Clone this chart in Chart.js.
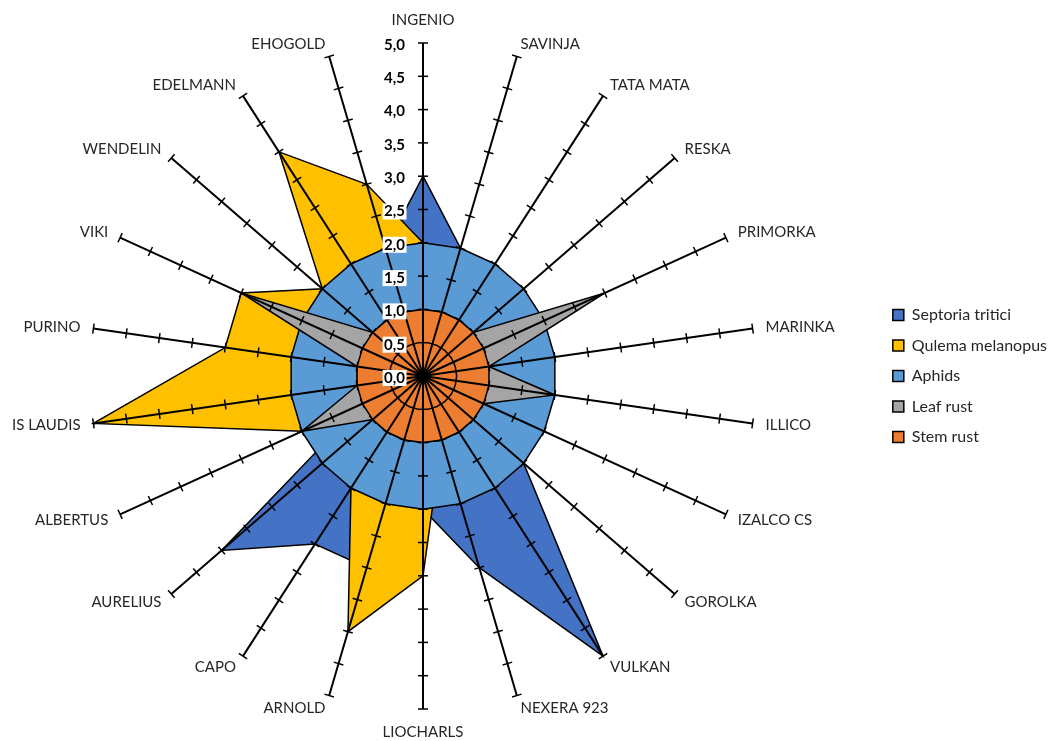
<!DOCTYPE html>
<html>
<head>
<meta charset="utf-8">
<script src="https://cdn.jsdelivr.net/npm/chart.js@4/dist/chart.umd.min.js"></script>
<style>
  body { margin:0; background:#fff; overflow:hidden; }
  #wrap { width:1089px; height:741px; position:relative; margin-left:-32px; }
</style>
</head>
<body>
<div id="wrap"><canvas id="chart"></canvas></div>
<script>
// Varieties (axes)
const varieties = ['INGENIO','SAVINJA','TATA MATA','RESKA','PRIMORKA','MARINKA','ILLICO','IZALCO CS',
  'GOROLKA','VULKAN','NEXERA 923','LIOCHARLS','ARNOLD','CAPO','AURELIUS','ALBERTUS','IS LAUDIS',
  'PURINO','VIKI','WENDELIN','EDELMANN','EHOGOLD'];

// Series values
const septoria = [3,2,1.5,1.5,1.5,1.5,1.5,1.5,2,5,3,2,3,3,4,1,1.5,1.5,1.5,1.5,2,2];
const qulema   = [2,1.5,1.5,1.5,1.5,1.5,1.5,1.5,1.5,1.5,1,3,4,2,1.5,2,5,3,3,2,4,3];
const aphids   = [2,2,2,2,2,2,2,2,2,2,2,2,2,2,2,2,2,2,2,2,2,2];
const leafRust = [1,1,1,1,3,1,2,1,1,1,1,1,1,1,1,2,1,1,3,1,1,1];
const stemRust = [1,1,1,1,1,1,1,1,1,1,1,1,1,1,1,1,1,1,1,1,1,1];

// Value axis
const tickValues = [0,0.5,1,1.5,2,2.5,3,3.5,4,4.5,5];
const tickLabels = ['0,0','0,5','1,0','1,5','2,0','2,5','3,0','3,5','4,0','4,5','5,0'];

const FONT = 'Lato';
const TEXT = '#262626';

// tick marks, value labels and category labels drawn on top
const radarDecor = {
  id:'radarDecor',
  afterDraw(chart){
    const sc = chart.scales.r;
    const ctx = chart.ctx;
    const n = varieties.length;
    ctx.save();
    // small cross ticks on every axis
    ctx.strokeStyle = '#000';
    ctx.lineWidth = 1.5;
    for(let i=0;i<n;i++){
      const a = sc.getIndexAngle(i) - Math.PI/2;
      const px = -Math.sin(a), py = Math.cos(a);
      tickValues.forEach(v=>{
        if(v===0) return;
        const p = sc.getPointPositionForValue(i, v);
        ctx.beginPath();
        ctx.moveTo(p.x - px*5, p.y - py*5);
        ctx.lineTo(p.x + px*5, p.y + py*5);
        ctx.stroke();
      });
    }
    // value labels left of the first axis
    ctx.font = `bold 15px ${FONT}`;
    ctx.textAlign = 'right';
    ctx.textBaseline = 'middle';
    tickValues.forEach((v,k)=>{
      const p = sc.getPointPositionForValue(0, v);
      const x = sc.xCenter - 18, y = p.y + 2;
      const w = ctx.measureText(tickLabels[k]).width;
      ctx.fillStyle = '#fff';
      ctx.fillRect(x - w - 1.5, y - 8, w + 3, 16);
      ctx.fillStyle = '#000';
      ctx.fillText(tickLabels[k], x, y);
    });
    // category labels
    ctx.font = `15px ${FONT}`;
    ctx.fillStyle = TEXT;
    for(let i=0;i<n;i++){
      const deg = Math.round(i*360/n);
      const p = sc.getPointPosition(i, sc.drawingArea + 13);
      let y = p.y;
      if(deg===0){ ctx.textAlign='center'; y -= 10; }
      else if(deg===180){ ctx.textAlign='center'; y += 10; }
      else ctx.textAlign = deg < 180 ? 'left' : 'right';
      ctx.fillText(varieties[i], p.x, y);
    }
    ctx.restore();
  }
};

const series = [
  { label:'Septoria tritici',  data:septoria, color:'#4472C4' },
  { label:'Qulema melanopus',  data:qulema,   color:'#FFC000' },
  { label:'Aphids',            data:aphids,   color:'#5B9BD5' },
  { label:'Leaf rust',         data:leafRust, color:'#A5A5A5' },
  { label:'Stem rust',         data:stemRust, color:'#ED7D31' }
];

new Chart(document.getElementById('chart'), {
  type:'radar',
  data:{
    labels:varieties,
    datasets:series.map((s,i)=>({
      label:s.label,
      data:s.data,
      backgroundColor:s.color,
      borderColor:'#000',
      borderWidth:1.5,
      fill:true,
      pointRadius:0,
      order:series.length - i   // first series at the bottom
    }))
  },
  options:{
    responsive:true,
    maintainAspectRatio:false,
    animation:false,
    layout:{ padding:{ left:0, right:0, top:43, bottom:32 } },
    scales:{
      r:{
        min:0, max:5,
        ticks:{ display:false, stepSize:0.5 },
        grid:{ display:false, z:1 },
        angleLines:{ display:true, color:'#000', lineWidth:2 },
        pointLabels:{ display:false }
      }
    },
    plugins:{
      legend:{
        position:'right',
        labels:{
          font:{ family:FONT, size:16 },
          color:TEXT,
          boxWidth:11, boxHeight:11,
          padding:14.5,
          sort:(a,b)=>a.datasetIndex - b.datasetIndex
        }
      },
      tooltip:{ enabled:false }
    }
  },
  plugins:[radarDecor]
});
</script>
</body>
</html>
